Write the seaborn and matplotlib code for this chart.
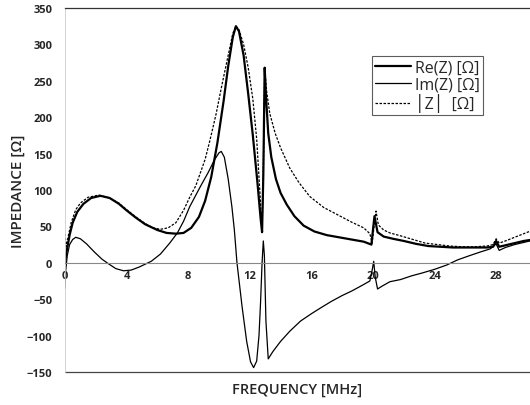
"""
Impedance vs frequency chart (Re, Im, |Z|)
"""

import matplotlib
matplotlib.use('Agg')
import matplotlib.pyplot as plt
import seaborn as sns
import numpy as np

# Re(Z) [ohm]
re_freq = [0, 0.1, 0.3, 0.5, 0.8, 1.2, 1.7, 2.3, 2.9, 3.5, 4.0, 4.6, 5.2, 6.0, 6.6,
           7.2, 7.7, 8.2, 8.7, 9.1, 9.5, 9.9, 10.3, 10.6, 10.9, 11.1, 11.3, 11.6,
           11.9, 12.2, 12.5, 12.7, 12.8, 12.88, 12.97, 13.05, 13.2, 13.4, 13.7, 14.0,
           14.4, 14.9, 15.5, 16.2, 17.0, 17.8, 18.6, 19.4, 19.9, 20.0, 20.1, 20.3,
           20.7, 21.3, 22.0, 22.8, 23.6, 24.4, 25.2, 26.0, 26.8, 27.4, 27.8, 28.0,
           28.2, 28.6, 29.2, 29.8, 30.4]
re_vals = [0, 15, 38, 55, 70, 81, 89, 92, 89, 81, 72, 62, 53, 45, 41,
           40, 41, 48, 63, 85, 118, 165, 222, 270, 310, 325, 318, 285,
           232, 175, 110, 62, 42, 120, 268, 230, 178, 145, 115, 96,
           80, 64, 51, 43, 38, 35, 32, 29, 25, 45, 64, 42,
           36, 33, 30, 26, 23, 22, 21, 21, 21, 21, 22, 30,
           22, 24, 27, 30, 32]

# Im(Z) [ohm]
im_freq = [0, 0.05, 0.15, 0.3, 0.5, 0.7, 1.0, 1.4, 1.9, 2.4, 2.8, 3.3, 3.8, 4.3,
           4.8, 5.2, 5.6, 6.2, 6.8, 7.3, 7.7, 8.1, 8.5, 8.8, 9.3, 9.7, 10.0, 10.15,
           10.35, 10.6, 10.84, 11.0, 11.17, 11.5, 11.8, 12.05, 12.25, 12.45, 12.6,
           12.7, 12.8, 12.88, 12.95, 13.05, 13.2, 13.5, 14.0, 14.6, 15.3, 16.0, 16.6,
           17.3, 18.0, 18.6, 19.3, 19.8, 19.95, 20.05, 20.15, 20.3, 20.6, 21.1, 21.8,
           22.5, 23.2, 24.0, 24.8, 25.5, 26.3, 27.0, 27.6, 27.8, 28.0, 28.2, 28.6,
           29.2, 29.8, 30.4]
im_vals = [-35, -10, 10, 25, 32, 35, 33, 26, 15, 5, -1, -8, -11, -10,
           -6, -2, 2, 12, 27, 41, 57, 77, 93, 105, 124, 141, 151, 153,
           145, 115, 77, 45, 0, -60, -108, -136, -144, -135, -100,
           -55, 0, 30, 10, -80, -132, -122, -108, -94, -80, -70, -62,
           -53, -45, -39, -31, -25, -10, 2, -20, -36, -32, -26, -23,
           -18, -14, -9, -3, 4, 10, 15, 19, 22, 26, 17, 21,
           25, 28, 31]

# |Z| [ohm]
abs_freq = [0, 0.08, 0.2, 0.4, 0.7, 1.0, 1.5, 2.2, 2.9, 3.5, 4.0, 4.6, 5.2, 5.7,
            6.2, 6.7, 7.2, 7.7, 8.1, 8.5, 8.8, 9.1, 9.4, 9.8, 10.2, 10.6, 10.9,
            11.1, 11.3, 11.6, 11.9, 12.2, 12.45, 12.65, 12.8, 12.88, 12.97, 13.1,
            13.3, 13.65, 14.0, 14.6, 15.2, 15.9, 16.8, 17.7, 18.6, 19.4, 19.8, 19.95,
            20.1, 20.2, 20.35, 20.7, 21.1, 21.8, 22.6, 23.4, 24.2, 25.0, 25.8, 26.6,
            27.4, 27.8, 28.0, 28.2, 28.6, 29.2, 29.8, 30.4]
abs_vals = [40, 22, 35, 55, 73, 82, 90, 93, 89, 82, 73, 63, 54, 48,
            46, 48, 55, 72, 90, 106, 124, 142, 167, 203, 245, 285, 315,
            325, 320, 300, 268, 225, 170, 100, 45, 120, 268, 235,
            205, 178, 158, 130, 110, 91, 76, 66, 56, 48, 40, 27,
            55, 71, 52, 45, 41, 37, 32, 27, 25, 23, 22, 22,
            23, 25, 33, 27, 30, 35, 40, 45]

x_ticks = [0, 4, 8, 12, 16, 20, 24, 28]
y_ticks = [-150, -100, -50, 0, 50, 100, 150, 200, 250, 300, 350]

sns.set_style("white")
plt.rcParams['font.family'] = ['Open Sans', 'DejaVu Sans']

fig = plt.figure(figsize=(5.3, 4.06), dpi=100)
ax = fig.add_axes([0.1226, 0.0813, 0.8774, 0.8966])

sns.lineplot(x=re_freq, y=re_vals, ax=ax, color='black', linewidth=1.6,
             sort=False, estimator=None, label='Re(Z) [Ω]')
sns.lineplot(x=im_freq, y=im_vals, ax=ax, color='black', linewidth=0.9,
             sort=False, estimator=None, label='Im(Z) [Ω]')
sns.lineplot(x=abs_freq, y=abs_vals, ax=ax, color='black', linewidth=0.9,
             linestyle=(0, (2, 1.2)), sort=False, estimator=None,
             label='│Z│  [Ω]')

ax.set_xlim(0, 30.2)
ax.set_ylim(-150, 350)
ax.set_xticks(x_ticks)
ax.set_xticks(np.arange(0, 31, 2), minor=True)
ax.set_yticks(y_ticks)

# x axis drawn along zero
ax.spines['bottom'].set_position(('data', 0))
ax.spines['bottom'].set_color('#888888')
ax.spines['bottom'].set_linewidth(0.8)
ax.spines['right'].set_visible(False)
ax.spines['top'].set_color('#333333')
ax.spines['top'].set_linewidth(0.9)
ax.spines['left'].set_color('#cccccc')
ax.spines['left'].set_linewidth(0.6)
ax.axhline(-150, color='#444444', linewidth=0.9, clip_on=False)

ax.tick_params(axis='x', which='both', direction='in', length=3, width=0.6,
               color='#888888', pad=5, labelsize=8)
ax.tick_params(axis='y', direction='in', length=2, width=0.6, color='#999999',
               pad=9, labelsize=8)
for lbl in ax.get_xticklabels() + ax.get_yticklabels():
    lbl.set_fontweight('bold')

fig.text(0.56, 0.04, 'FREQUENCY [MHz]', ha='center', va='center', fontsize=10.5,
         fontweight='semibold')
fig.text(0.034, 0.53, 'IMPEDANCE [Ω]', ha='center', va='center', fontsize=11,
         fontweight='semibold', rotation=90)

leg = ax.legend(loc='upper right', bbox_to_anchor=(0.9, 0.867), fontsize=11.5,
                frameon=True, fancybox=False, handlelength=2.2,
                borderpad=0.2, labelspacing=0.05, handletextpad=0.3,
                borderaxespad=0)
leg.get_frame().set_edgecolor('#333333')
leg.get_frame().set_linewidth(0.8)

plt.savefig('out.png', dpi=100)
plt.close()
